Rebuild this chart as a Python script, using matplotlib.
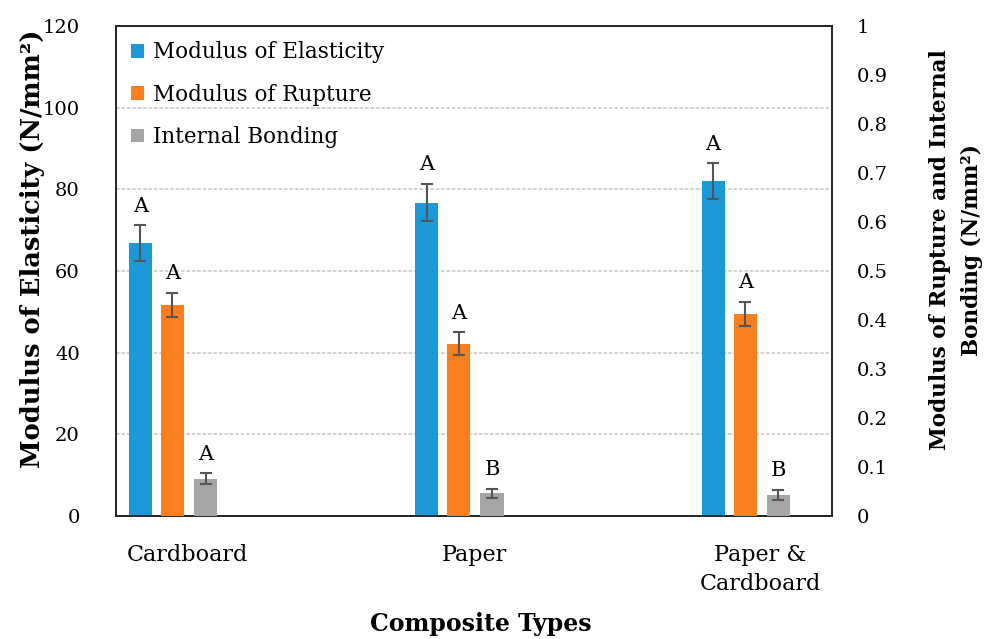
import matplotlib
matplotlib.use('Agg')
import matplotlib.pyplot as plt
import numpy as np

plt.rcParams['font.family'] = ['DejaVu Serif']

# data
types = ['Cardboard', 'Paper', 'Paper &\nCardboard']
moe = [66.8, 76.8, 82.0]          # left axis, N/mm2
moe_err = [4.4, 4.5, 4.4]
mor = [0.431, 0.352, 0.412]       # right axis, N/mm2
mor_err = [0.024, 0.023, 0.025]
ib = [0.076, 0.046, 0.043]        # right axis, N/mm2
ib_err = [0.011, 0.010, 0.011]
moe_grp = ['A', 'A', 'A']
mor_grp = ['A', 'A', 'A']
ib_grp = ['A', 'B', 'B']

c_blue = '#1b98d8'
c_orange = '#fd7e1c'
c_gray = '#a5a5a5'
c_err = '#555555'

fig = plt.figure(figsize=(9.87, 6.39), dpi=100)
ax1 = fig.add_axes([0.1175, 0.1925, 0.7255, 0.7665])
ax2 = ax1.twinx()

x = np.arange(len(types))
w = 0.081
ekw = dict(ecolor=c_err, elinewidth=1.5, capsize=4.5, capthick=1.5)

b1 = ax1.bar(x - 0.165, moe, w, color=c_blue, yerr=moe_err, error_kw=ekw, zorder=3)
b2 = ax2.bar(x - 0.053, mor, w, color=c_orange, yerr=mor_err, error_kw=ekw, zorder=3)
b3 = ax2.bar(x + 0.063, ib, w, color=c_gray, yerr=ib_err, error_kw=ekw, zorder=3)

def letters(ax, xs, vals, errs, labs):
    for xi, v, e, t in zip(xs, vals, errs, labs):
        ax.annotate(t, (xi, v + e), xytext=(0, 7), textcoords='offset points',
                    ha='center', va='bottom', fontsize=15)

letters(ax1, x - 0.165, moe, moe_err, moe_grp)
letters(ax2, x - 0.053, mor, mor_err, mor_grp)
letters(ax2, x + 0.063, ib, ib_err, ib_grp)

ax1.set_xlim(-0.25, 2.25)
ax1.set_ylim(0, 120)
ax1.set_yticks(np.arange(0, 121, 20))
ax2.set_ylim(0, 1)
ax2.set_yticks(np.arange(0, 1.01, 0.1))
ax2.set_yticklabels(['0'] + ['%.1f' % v for v in np.arange(0.1, 0.95, 0.1)] + ['1'])

for yv in range(20, 101, 20):
    ax1.axhline(yv, color='#cfcfcf', lw=1.3, ls=(0, (2, 1)), zorder=1)

ax1.set_xticks(x)
ax1.set_xticklabels(types, fontsize=16, linespacing=1.4)
ax1.tick_params(axis='x', length=0, pad=20)
ax1.tick_params(axis='y', length=0, labelsize=14, pad=26)
ax2.tick_params(axis='y', length=0, labelsize=14, pad=18)

for ax in (ax1, ax2):
    for s in ax.spines.values():
        s.set_linewidth(1.2)
        s.set_color('#222222')

fig.text(481 / 987, 1 - 624 / 639, 'Composite Types', fontsize=17, fontweight='bold',
         ha='center', va='center')
fig.text(33 / 987, 1 - 249 / 639, 'Modulus of Elasticity (N/mm²)', fontsize=18.5,
         fontweight='bold', rotation=90, ha='center', va='center')
fig.text(956 / 987, 1 - 250 / 639, 'Modulus of Rupture and Internal\nBonding (N/mm²)',
         fontsize=15.5, fontweight='bold', rotation=90, ha='center', va='center',
         multialignment='center', linespacing=1.6)

ax2.legend([b1, b2, b3], ['Modulus of Elasticity', 'Modulus of Rupture', 'Internal Bonding'],
           loc='upper left', bbox_to_anchor=(0.0, 1.0), frameon=False, fontsize=15.5,
           handlelength=0.6, handleheight=0.6, handletextpad=0.4, labelspacing=0.95,
           borderaxespad=0.3)

fig.savefig('out.png', dpi=100)
